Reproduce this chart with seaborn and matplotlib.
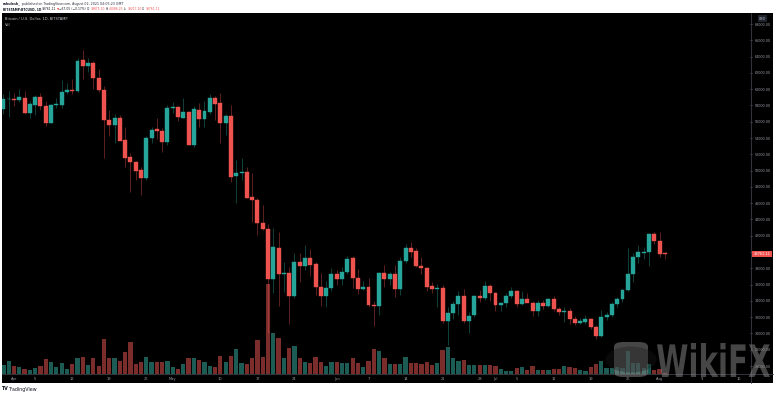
import numpy as np
import pandas as pd
import matplotlib
matplotlib.use("Agg")
import matplotlib.pyplot as plt
import seaborn as sns
from matplotlib.patches import Rectangle, FancyBboxPatch, PathPatch, Circle
from matplotlib.lines import Line2D
from matplotlib.textpath import TextPath
from matplotlib.font_manager import FontProperties
from matplotlib.transforms import Affine2D, IdentityTransform

# ---------------- data ----------------
dates = pd.date_range("2021-03-30", "2021-08-02", freq="D")

opens = [57600, 58800, 58850, 58700, 58950, 57050, 58100, 59050, 57900, 55900,
         58050, 58100, 59650, 59950, 59750, 63550, 62850, 63200, 61350, 59950,
         56200, 55600, 56400, 53750, 51700, 51100, 50050, 49100, 54000, 55100,
         54850, 53500,
         57700, 57800, 56500, 57200, 53150, 57450, 56350, 57200, 58900, 58300,
         55850, 56700, 49350, 49700, 49840, 46770, 46400, 43580, 42850, 36700,
         40500, 37300, 37450, 34600, 38800, 38300, 39300, 38500, 35700, 34600,
         35600,
         37300, 36700, 37550, 39300, 36850, 35500, 35700, 33500, 33400, 37450,
         36700, 37300, 35500, 38900, 40500, 40100, 38300, 38050, 35850, 35500,
         35600, 31550, 32500, 33650, 34600, 31550, 32300, 34600, 34400, 35850,
         35000, 33500, 33750, 34600, 35250, 33650, 34250, 33750, 32750, 33750,
         33400, 34250, 33000, 32650, 32800, 31800, 31300, 31450, 31800, 30800,
         29700, 32050, 32300, 33650, 34250, 35350, 37300, 39400, 39900, 40000,
         42200, 41350, 39900]
highs = [59400, 59800, 59500, 60000, 59750, 58500, 59300, 59500, 58600, 58200,
         58900, 61150, 60700, 61200, 63800, 64850, 63800, 63500, 62500, 60400,
         57500, 57000, 56800, 55400, 52100, 51200, 50500, 54300, 55400, 56500,
         55200, 58000,
         58400, 57900, 58900, 57300, 57900, 58300, 58600, 59400, 59200, 59500,
         56900, 58000, 51300, 51500, 50500, 49700, 46600, 45800, 43500, 43000,
         42400, 38800, 38200, 39900, 39900, 40900, 40400, 38800, 37450, 36500,
         38000,
         37800, 38200, 39450, 39450, 37900, 36400, 36800, 34000, 37600, 38400,
         37600, 38400, 39400, 41000, 41250, 40500, 39400, 38200, 36350, 36100,
         36000, 33300, 34000, 35200, 35400, 32600, 34700, 35300, 36500, 36100,
         35100, 33900, 35000, 35700, 35350, 35150, 35000, 34000, 34100, 34100,
         34400, 34600, 33300, 33300, 33100, 32200, 31900, 32300, 31950, 31050,
         32900, 32600, 33900, 34500, 35500, 40500, 39900, 40900, 40600, 42350,
         42400, 42450, 40050]
lows = [57000, 56600, 57900, 58400, 57000, 56500, 56800, 57500, 55500, 55800,
        57700, 57700, 59400, 59400, 59600, 61300, 62100, 60000, 59600, 51500,
        54200, 53400, 53700, 50400, 47400, 48800, 47000, 48800, 53400, 53900,
        52300, 53100,
        57100, 56100, 56400, 53100, 52900, 55300, 55400, 56900, 56200, 53400,
        54400, 48600, 46000, 48900, 46600, 43700, 42100, 42700, 30000, 35000,
        33400, 35100, 31100, 34400, 36300, 37800, 37100, 34750, 33400, 33300,
        35200,
        36000, 35900, 37300, 35600, 34900, 35300, 33300, 30950, 32300, 35700,
        36000, 34500, 34750, 38650, 39400, 38100, 37300, 35200, 35000, 33300,
        31300, 28600, 31800, 32300, 31300, 30100, 32000, 33800, 34150, 34000,
        32700, 32700, 33200, 34300, 33200, 33550, 33800, 32200, 32200, 33000,
        33200, 32700, 32300, 31400, 31200, 31000, 31200, 31200, 30500, 29350,
        29600, 31700, 32000, 33200, 33800, 35200, 36350, 38700, 39150, 38300,
        41000, 39400, 39200]
closes = [58750, 58850, 58700, 59050, 57050, 58200, 59050, 57900, 55900, 58050,
          58150, 59700, 59950, 59750, 63450, 62850, 63200, 61350, 59900, 56200,
          55600, 56400, 53650, 51550, 51100, 49950, 49100, 54000, 55000, 54850,
          53500, 57700,
          57800, 56600, 57200, 53150, 57550, 56350, 57300, 58900, 58200, 55850,
          56700, 49200, 49700, 49800, 46650, 46400, 43580, 42850, 36700, 40600,
          37300, 37400, 34600, 38800, 38300, 39300, 38400, 35700, 34600, 35600,
          37300,
          36700, 37550, 39200, 36850, 35500, 35700, 33500, 33350, 37450, 36700,
          37300, 35500, 38900, 40500, 40000, 38300, 38050, 35700, 35500, 35600,
          31550, 32500, 33650, 34600, 31550, 32200, 34600, 34400, 35800, 35000,
          33500, 33750, 34600, 35250, 33650, 34250, 33750, 32750, 33750, 33400,
          34250, 33000, 32650, 32800, 31800, 31300, 31550, 31800, 30800, 29700,
          32050, 32300, 33650, 34250, 35350, 37300, 39400, 40000, 40050, 42200,
          41350, 39750, 39761.11]
volumes = [4200, 5700, 3750, 3150, 2250, 1950, 2700, 3450, 6750, 5550,
           3300, 4950, 2250, 4650, 7050, 7500, 4200, 7200, 3750, 15900,
           7050, 7350, 5700, 9750, 14400, 4350, 5250, 7650, 5250, 5550,
           5250, 6000,
           3000, 2400, 4500, 7350, 7050, 6450, 5250, 3750, 3300, 8250,
           5250, 7950, 11400, 4950, 4500, 7200, 15300, 7800, 40500, 18450,
           16350, 7050, 11700, 12750, 7200, 5250, 5100, 7650, 5550, 3750,
           5550,
           5400, 5100, 5100, 7200, 5100, 3150, 6000, 11250, 10500, 7200,
           4650, 4650, 4650, 7650, 5100, 5100, 4500, 5400, 4050, 5100,
           10650, 12300, 7200, 6000, 6450, 4200, 4200, 4200, 4200, 3900,
           3750, 2400, 1500, 1500, 2850, 3000, 1950, 3750, 1950, 1800,
           1950, 2250, 2400, 3750, 3000, 2700, 1950, 1350, 3150, 4350,
           6000, 2700, 2700, 3000, 2700, 10200, 4950, 4950, 2700, 4500,
           1950, 2400, 450]

price_ticks = list(range(26000, 68001, 2000))
x_tick_dates = ["2021-04-01", "2021-04-05", "2021-04-12", "2021-04-19", "2021-04-26",
                "2021-05-01", "2021-05-10", "2021-05-17", "2021-05-24", "2021-06-01",
                "2021-06-07", "2021-06-14", "2021-06-21", "2021-06-28", "2021-07-01",
                "2021-07-05", "2021-07-12", "2021-07-19", "2021-07-26", "2021-08-01",
                "2021-08-09", "2021-08-16"]
x_tick_labels = ["Apr", "5", "12", "19", "26", "May", "10", "17", "24", "Jun", "7",
                 "14", "21", "28", "Jul", "5", "12", "19", "26", "Aug", "9", "16"]
last_price = 39761.11

# ---------------- style ----------------
UP = "#26a69a"
DOWN = "#ef5350"
VOL_UP = "#1d5c55"
VOL_DOWN = "#7b2d2b"
TXT = "#9a9da6"
LINE = "#3a3d45"
DARK = "#131722"

sns.set_theme(style="dark", rc={"axes.facecolor": "black", "figure.facecolor": "white",
                                "axes.grid": False})
plt.rcParams["font.family"] = ["DejaVu Sans"]

W, H = 775, 395
fig = plt.figure(figsize=(W / 100, H / 100), dpi=100)
renderer = fig.canvas.get_renderer()


def fx(px):
    return px / W


def fy(py):
    return 1 - py / H


def seq_text(x0, py, parts, size, gap=0.6):
    """Place text pieces one after the other along a line (pixel coordinates)."""
    x = x0
    for s, col, wt in parts:
        t = fig.text(fx(x), fy(py), s, fontsize=size, color=col, fontweight=wt,
                     ha="left", va="center")
        bb = t.get_window_extent(renderer)
        x = bb.x1 + gap


# black chart panel
fig.patches.append(Rectangle((fx(2), fy(383)), fx(773) - fx(2), fy(13) - fy(383),
                             transform=fig.transFigure, facecolor="black",
                             edgecolor="none", zorder=-5))

ax_rect = [fx(2), fy(374), fx(750) - fx(2), fy(13) - fy(374)]
n = len(dates)
xs = np.arange(n)
xlim = (-0.27, 141.1)

# volume pane
vax = fig.add_axes(ax_rect, zorder=1)
vdf = pd.DataFrame({"i": xs, "vol": volumes,
                    "dir": ["up" if c >= o else "down" for o, c in zip(opens, closes)]})
sns.barplot(data=vdf, x="i", y="vol", hue="dir", palette={"up": VOL_UP, "down": VOL_DOWN},
            dodge=False, width=0.8, errorbar=None, legend=False, ax=vax,
            linewidth=0, saturation=1)
vax.set_xlim(*xlim)
vax.set_ylim(0, 162500)
vax.set_facecolor("black")
vax.set_axis_off()

# price pane
ax = fig.add_axes(ax_rect, zorder=2)
ax.set_facecolor("none")
for i, (o, h, l, c) in enumerate(zip(opens, highs, lows, closes)):
    col = UP if c >= o else DOWN
    ax.vlines(i, l, h, color=col, linewidth=0.5, alpha=0.55, zorder=2)
    ax.bar(i, c - o, bottom=o, width=0.75, color=col, edgecolor=col, linewidth=0.3,
           zorder=3)
ax.set_xlim(*xlim)
ax.set_ylim(25018, 69351)

for s in ax.spines.values():
    s.set_visible(False)
ax.yaxis.tick_right()
ax.set_yticks(price_ticks)
ax.set_yticklabels([f"{p:.2f}" for p in price_ticks])
ax.tick_params(axis="y", length=1.5, width=0.4, pad=2, labelsize=2.4, colors=TXT)
tick_pos = [(pd.Timestamp(d) - dates[0]).days for d in x_tick_dates]
ax.set_xticks(tick_pos)
ax.set_xticklabels(x_tick_labels)
ax.tick_params(axis="x", length=1, width=0.4, pad=1.2, labelsize=2.6, colors=TXT)
ax.grid(False)

# separator lines
fig.add_artist(Line2D([fx(2), fx(773)], [fy(374), fy(374)], transform=fig.transFigure,
                      color=LINE, linewidth=0.6, zorder=5))
fig.add_artist(Line2D([fx(750.5), fx(750.5)], [fy(13), fy(383)], transform=fig.transFigure,
                      color=LINE, linewidth=0.6, zorder=5))

# last price label
y_last = fig.transFigure.inverted().transform(ax.transData.transform((0, last_price)))[1]
fig.text(fx(762), y_last, f"{last_price:.2f}", fontsize=2.6, color="white",
         ha="center", va="center", zorder=10,
         bbox=dict(boxstyle="square,pad=0.35", facecolor=DOWN, edgecolor="none"))

# USD box
fig.text(fx(762.5), fy(18.5), "USD", fontsize=2.3, color="#c0c3cc", ha="center",
         va="center", zorder=10,
         bbox=dict(boxstyle="square,pad=0.4", facecolor="#1e222d", edgecolor="none"))

# pane legend
fig.text(fx(5), fy(19), "Bitcoin / U.S. Dollar, 1D, BITSTAMP", fontsize=2.6,
         color="#c8cad0", ha="left", va="center", zorder=10)
fig.text(fx(5), fy(25.5), "Vol", fontsize=2.6, color="#c8cad0", ha="left",
         va="center", zorder=10)

# header
seq_text(3, 3.5, [("rahulesh_", DARK, "bold"),
                  ("published on TradingView.com, August 02, 2021 04:05:23 GMT", "#2a2e39",
                   "normal")], 2.3, gap=0.8)
seq_text(3, 9.5, [("BITSTAMP:BTCUSD, 1D", DARK, "bold"),
                  ("39761.11", DARK, "normal"),
                  ("▼", DOWN, "normal"),
                  ("−67.05 (−0.17%)", DARK, "normal"),
                  ("O:", DARK, "normal"), ("39875.10", DOWN, "normal"),
                  ("H:", DARK, "normal"), ("40086.25", DOWN, "normal"),
                  ("L:", DARK, "normal"), ("39217.20", DOWN, "normal"),
                  ("C:", DARK, "normal"), ("39761.11", DOWN, "normal")], 2.2, gap=0.5)

# footer
seq_text(1.5, 389, [("TV", DARK, "bold"), ("TradingView", DARK, "normal")], 3.4, gap=0.8)

# WikiFX watermark
wm_col = (0.55, 0.55, 0.55, 0.5)
fig.add_artist(FancyBboxPatch((fx(614), fy(377)), fx(648) - fx(614), fy(342) - fy(377),
                              boxstyle="round,pad=0,rounding_size=0.012",
                              transform=fig.transFigure, facecolor=wm_col,
                              edgecolor="none", zorder=20))
fig.add_artist(Circle((fx(631), fy(359.5)), 0.033, transform=fig.transFigure,
                      facecolor=(0.1, 0.1, 0.1, 0.35), edgecolor="none", zorder=21))
tp = TextPath((0, 0), "WikiFX", prop=FontProperties(family="DejaVu Sans", weight="bold"))
bb = tp.get_extents()
sx = (770 - 657) / bb.width
sy = (377 - 343) / bb.height
tr = Affine2D().translate(-bb.x0, -bb.y0).scale(sx, sy).translate(657, H - 377)
fig.add_artist(PathPatch(tr.transform_path(tp), transform=IdentityTransform(),
                         facecolor=wm_col, edgecolor="none", zorder=20))

fig.savefig("out.png", dpi=100, facecolor="white")
